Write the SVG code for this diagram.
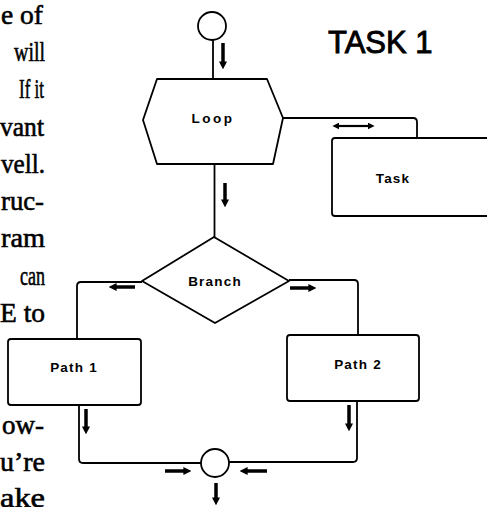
<svg xmlns="http://www.w3.org/2000/svg" width="487" height="507" viewBox="0 0 487 507">
<style>
.pg{font-family:"Liberation Serif","Times New Roman",serif;font-size:28px;fill:#000;stroke:#000;stroke-width:0.6}
.lb{font-family:"Liberation Sans",Arial,sans-serif;font-weight:bold;font-size:13.5px;fill:#000;text-anchor:middle;letter-spacing:1.2px}
.ttl{font-family:"Liberation Sans",Arial,sans-serif;font-size:31px;fill:#000;stroke:#000;stroke-width:0.9}
.sh{fill:#fff;stroke:#000;stroke-width:1.8;stroke-linejoin:round}
.cn{fill:none;stroke:#000;stroke-width:1.8;stroke-linejoin:round}
.ar{fill:none;stroke:#000;stroke-width:3.5;marker-end:url(#ah)}
.ar2{fill:none;stroke:#000;stroke-width:2.2;marker-end:url(#ah2);marker-start:url(#ah2)}
</style>
<defs>
<marker id="ah" viewBox="0 0 10 10" refX="2" refY="5" markerWidth="8" markerHeight="9" markerUnits="userSpaceOnUse" orient="auto">
<path d="M0,0 L10,5 L0,10 Z" fill="#000"/>
</marker>
<marker id="ah2" viewBox="0 0 10 10" refX="2" refY="5" markerWidth="7" markerHeight="7" markerUnits="userSpaceOnUse" orient="auto-start-reverse">
<path d="M0,0 L10,5 L0,10 Z" fill="#000"/>
</marker>
</defs>
<rect width="487" height="507" fill="#fff"/>
<g id="page-text" class="pg">
<text x="1" y="23.5" textLength="42" lengthAdjust="spacingAndGlyphs">e of</text>
<text x="14" y="61" textLength="31" lengthAdjust="spacingAndGlyphs">will</text>
<text x="19" y="98" textLength="25" lengthAdjust="spacingAndGlyphs">If it</text>
<text x="0" y="136" textLength="44" lengthAdjust="spacingAndGlyphs">vant</text>
<text x="1" y="173" textLength="44" lengthAdjust="spacingAndGlyphs">vell.</text>
<text x="1" y="210" textLength="43" lengthAdjust="spacingAndGlyphs">ruc-</text>
<text x="1" y="247" textLength="44" lengthAdjust="spacingAndGlyphs">ram</text>
<text x="20" y="285" textLength="25" lengthAdjust="spacingAndGlyphs">can</text>
<text x="0" y="322" textLength="45" lengthAdjust="spacingAndGlyphs">E to</text>
<text x="2" y="434" textLength="42" lengthAdjust="spacingAndGlyphs">ow-</text>
<text x="0" y="471" textLength="45" lengthAdjust="spacingAndGlyphs">u’re</text>
<text x="0" y="507" textLength="45" lengthAdjust="spacingAndGlyphs">ake</text>
</g>
<text id="title" class="ttl" x="328" y="53">TASK 1</text>
<g id="connectors">
<line class="cn" x1="213" y1="40" x2="213" y2="79"/>
<line class="cn" x1="214.5" y1="164" x2="214.5" y2="237"/>
<path class="cn" d="M283,118 H413 Q417,118 417,122 V138"/>
<path class="cn" d="M289,280 H354 Q358,280 358,284 V335"/>
<path class="cn" d="M142,282 H81 Q77,282 77,286 V339"/>
<path class="cn" d="M79,405 V459 Q79,463 83,463 H201"/>
<path class="cn" d="M357,401 V458 Q357,462 353,462 H229"/>
<line class="ar" x1="223" y1="43" x2="223" y2="63"/>
<line class="ar" x1="225" y1="183" x2="225" y2="201"/>
<line class="ar2" x1="338" y1="126" x2="369" y2="126"/>
<line class="ar" x1="290" y1="288" x2="310" y2="288"/>
<line class="ar" x1="135" y1="287" x2="115" y2="287"/>
<line class="ar" x1="86" y1="409" x2="86" y2="428"/>
<line class="ar" x1="349" y1="405" x2="349" y2="425"/>
<line class="ar" x1="165" y1="471" x2="185" y2="471"/>
<line class="ar" x1="267" y1="471" x2="246" y2="471"/>
<line class="ar" x1="216" y1="483" x2="216" y2="499"/>
</g>
<g id="start">
<circle class="sh" cx="212" cy="26" r="14"/>
</g>
<g id="loop">
<path class="sh" d="M157,79 L267,79 L283,118 L273,164 L157,164 L143,120 Z"/>
<text class="lb" x="213" y="123" style="letter-spacing:2.5px">Loop</text>
</g>
<g id="task">
<rect class="sh" x="332" y="138" width="170" height="78" rx="3"/>
<text class="lb" x="393" y="183">Task</text>
</g>
<g id="branch">
<path class="sh" d="M214,237 L289,281 L215,323 L142,281 Z"/>
<text class="lb" x="215" y="286">Branch</text>
</g>
<g id="path1">
<rect class="sh" x="8" y="339" width="133" height="66" rx="3"/>
<text class="lb" x="74" y="372">Path 1</text>
</g>
<g id="path2">
<rect class="sh" x="287" y="335" width="132" height="66" rx="3"/>
<text class="lb" x="358" y="369">Path 2</text>
</g>
<g id="join">
<circle class="sh" cx="215" cy="463" r="14"/>
</g>
</svg>
